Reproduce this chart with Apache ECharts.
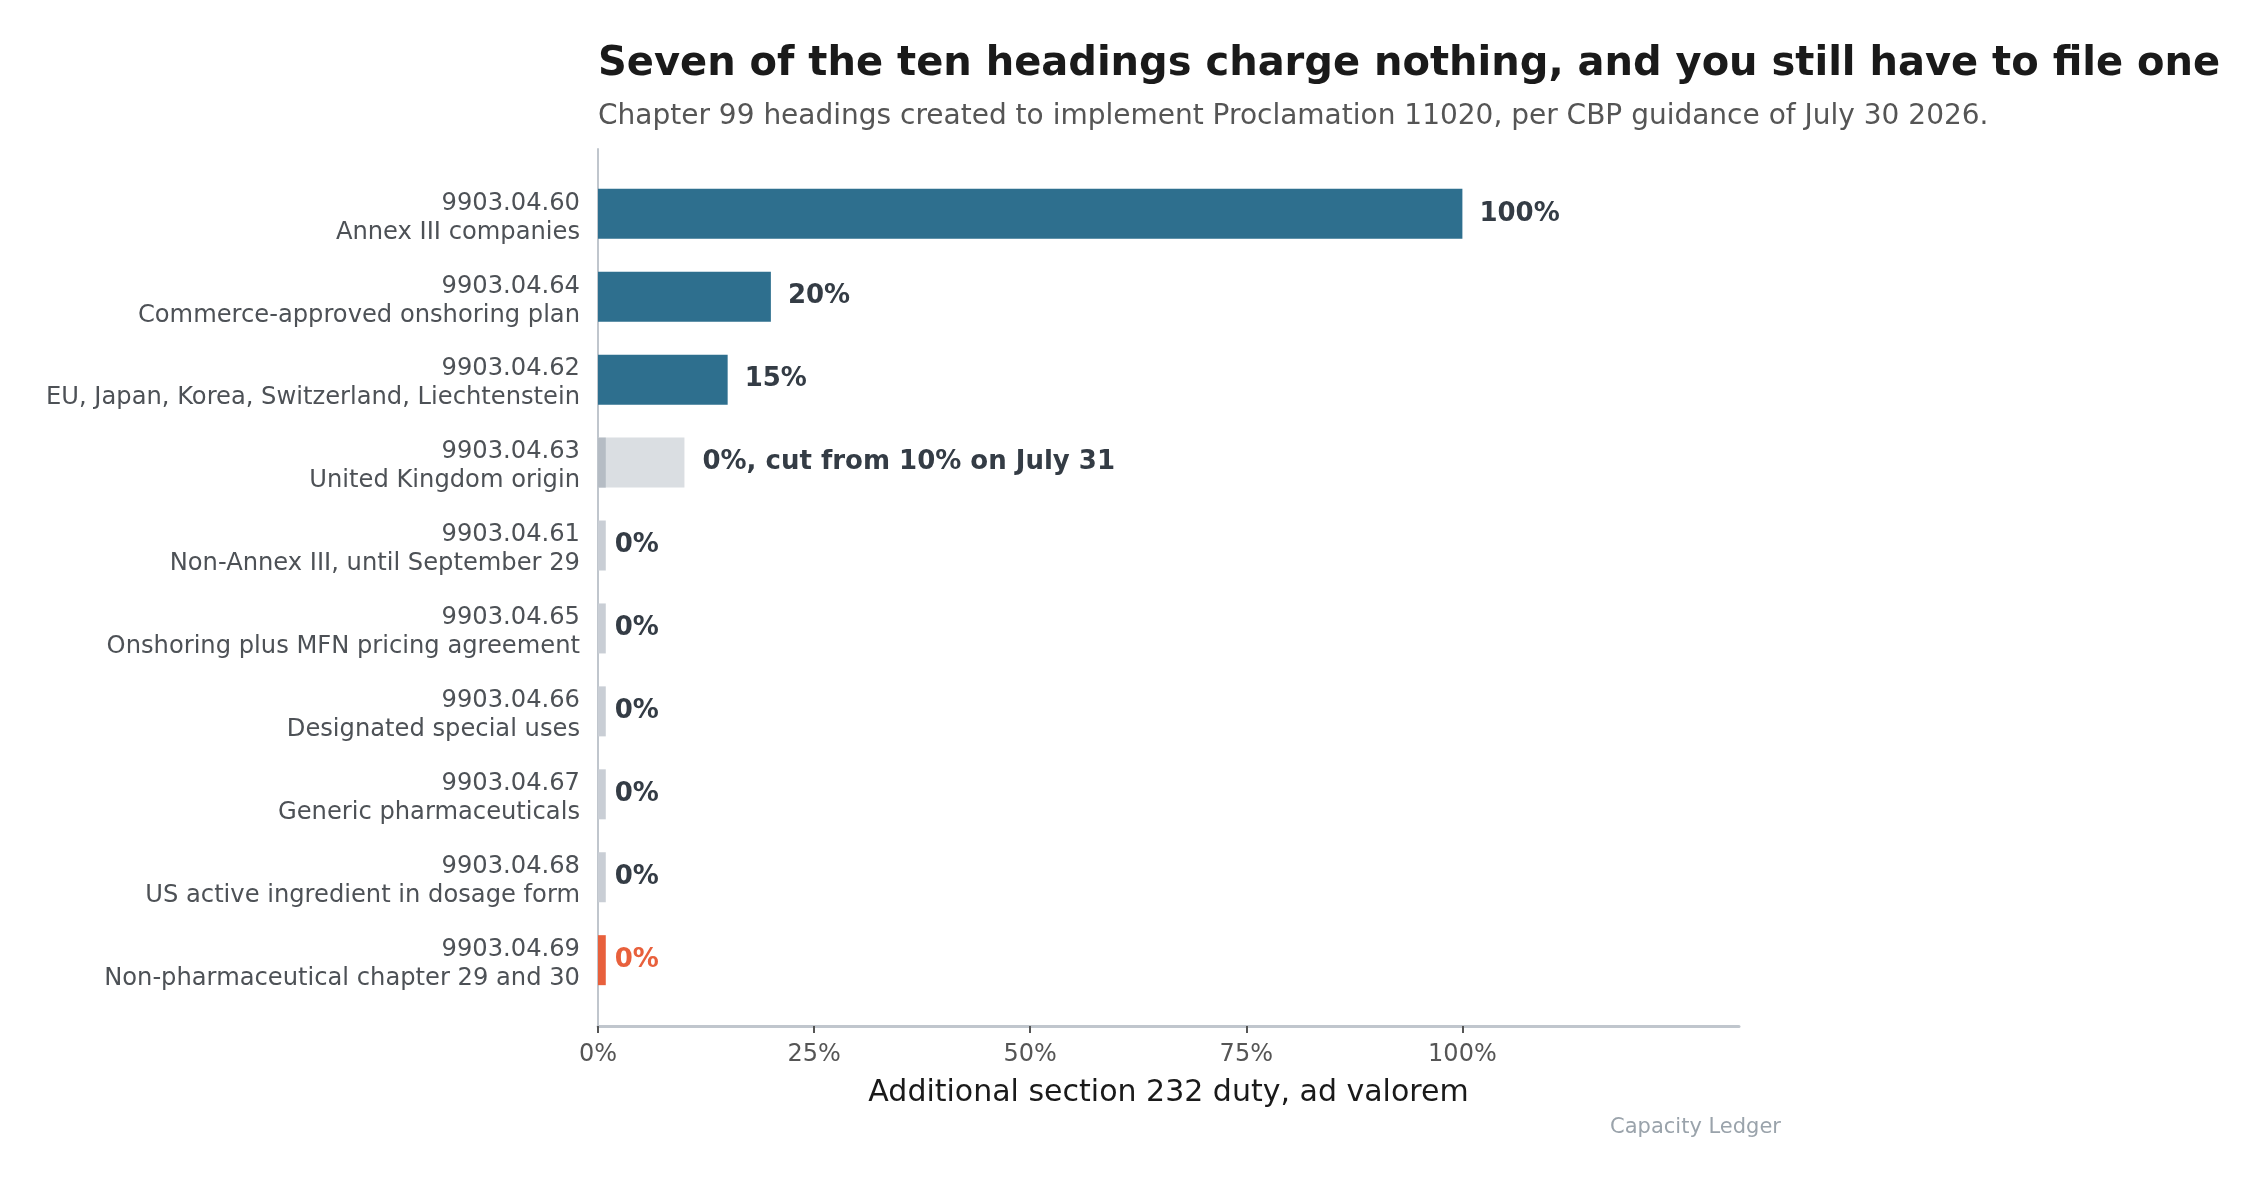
<!DOCTYPE html>
<html>
<head>
<meta charset="utf-8">
<script src="https://cdn.jsdelivr.net/npm/echarts@6/dist/echarts.min.js"></script>
<style>
  html, body { margin: 0; padding: 0; background: #ffffff; }
  #chart { width: 2259px; height: 1183px; }
</style>
</head>
<body>
<div id="chart"></div>
<script>
// headings, top to bottom
const codes = [
  '9903.04.60', '9903.04.64', '9903.04.62', '9903.04.63', '9903.04.61',
  '9903.04.65', '9903.04.66', '9903.04.67', '9903.04.68', '9903.04.69'
];
const descriptions = [
  'Annex III companies',
  'Commerce-approved onshoring plan',
  'EU, Japan, Korea, Switzerland, Liechtenstein',
  'United Kingdom origin',
  'Non-Annex III, until September 29',
  'Onshoring plus MFN pricing agreement',
  'Designated special uses',
  'Generic pharmaceuticals',
  'US active ingredient in dosage form',
  'Non-pharmaceutical chapter 29 and 30'
];
// additional duty, percent
const duty = [100, 20, 15, 0, 0, 0, 0, 0, 0, 0];
// previous rate (only the UK heading had one)
const previousDuty = [null, null, null, 10, null, null, null, null, null, null];
const valueLabels = ['100%', '20%', '15%', '0%, cut from 10% on July 31', '0%', '0%', '0%', '0%', '0%', '0%'];
// which bars get which colour
const barKind = ['rate', 'rate', 'rate', 'cut', 'zero', 'zero', 'zero', 'zero', 'zero', 'flag'];
const xTicks = [0, 25, 50, 75, 100];

const FONT = 'DejaVu Sans';
const KIND_COLOR = { rate: '#2e6f8e', cut: '#b5bcc4', zero: '#c9ced5', flag: '#e8603c' };
const LABEL_COLOR = { rate: '#343c45', cut: '#343c45', zero: '#343c45', flag: '#e8603c' };
const STUB = 0.9; // zero bars still get a sliver so they show up
const X_MAX = 132;

const plotLeft = 598, plotTop = 149, plotWidth = 1141, plotHeight = 877;
const band = 82.93;
const barsTop = 213.8 - band / 2;

const mainData = duty.map((v, i) => {
  const kind = barKind[i];
  const hasPrev = previousDuty[i] != null;
  return {
    value: Math.max(v, STUB),
    itemStyle: { color: KIND_COLOR[kind] },
    label: {
      show: !hasPrev,
      distance: v > 0 ? 17 : 9,
      color: LABEL_COLOR[kind]
    }
  };
});
const prevData = previousDuty.map((v, i) => v == null ? '-' : {
  value: v,
  label: { show: true, formatter: valueLabels[i], distance: 18, color: LABEL_COLOR[barKind[i]] }
});

const chart = echarts.init(document.getElementById('chart'), null, { renderer: 'canvas' });

chart.setOption({
  animation: false,
  backgroundColor: '#ffffff',
  textStyle: { fontFamily: FONT },
  title: [
    {
      text: 'Seven of the ten headings charge nothing, and you still have to file one',
      left: plotLeft, top: 45, padding: 0,
      textStyle: { fontFamily: FONT, fontSize: 40, fontWeight: 'bold', color: '#1a1a1a' }
    },
    {
      text: 'Chapter 99 headings created to implement Proclamation 11020, per CBP guidance of July 30 2026.',
      left: plotLeft, top: 103, padding: 0,
      textStyle: { fontFamily: FONT, fontSize: 28, fontWeight: 'normal', color: '#555555' }
    },
    {
      text: 'Capacity Ledger',
      right: 2259 - 1781, top: 1117, padding: 0,
      textStyle: { fontFamily: FONT, fontSize: 21, fontWeight: 'normal', color: '#9aa3ab' }
    }
  ],
  grid: [
    { left: plotLeft, top: plotTop, width: plotWidth, height: plotHeight, containLabel: false },
    { left: plotLeft, top: barsTop, width: plotWidth, height: band * codes.length, containLabel: false }
  ],
  xAxis: [
    {
      gridIndex: 0, type: 'value', min: 0, max: X_MAX,
      splitLine: { show: false },
      axisLine: { show: true, lineStyle: { color: '#c0c6cd', width: 3 } },
      axisTick: { show: true, length: 7, customValues: xTicks, lineStyle: { color: '#555555', width: 2 } },
      axisLabel: {
        customValues: xTicks, margin: 17,
        formatter: v => v + '%',
        fontFamily: FONT, fontSize: 24, color: '#555555'
      },
      name: 'Additional section 232 duty, ad valorem',
      nameLocation: 'middle', nameGap: 52,
      nameTextStyle: { fontFamily: FONT, fontSize: 30, color: '#1a1a1a' }
    },
    {
      gridIndex: 1, type: 'value', min: 0, max: X_MAX, show: false
    }
  ],
  yAxis: [
    {
      gridIndex: 0, type: 'value', min: 0, max: 1,
      axisLine: { show: true, lineStyle: { color: '#c0c6cd', width: 2 } },
      axisTick: { show: false }, axisLabel: { show: false }, splitLine: { show: false }
    },
    {
      gridIndex: 1, type: 'category', data: codes, inverse: true,
      axisLine: { show: false }, axisTick: { show: false }, splitLine: { show: false },
      axisLabel: {
        margin: 18,
        padding: [8, 0, 0, 0],
        formatter: (code, i) => '{code|' + code + '}\n{desc|' + descriptions[i] + '}',
        rich: {
          code: { fontFamily: FONT, fontSize: 24.2, color: '#4d5156', align: 'right', lineHeight: 29 },
          desc: { fontFamily: FONT, fontSize: 24.2, color: '#4d5156', align: 'right', lineHeight: 29 }
        }
      }
    }
  ],
  series: [
    {
      name: 'previous',
      type: 'bar', xAxisIndex: 1, yAxisIndex: 1,
      data: prevData,
      barWidth: 50, barGap: '-100%',
      itemStyle: { color: '#dadee2' },
      label: {
        position: 'right',
        fontFamily: FONT, fontSize: 26, fontWeight: 'bold'
      },
      z: 1
    },
    {
      name: 'duty',
      type: 'bar', xAxisIndex: 1, yAxisIndex: 1,
      data: mainData,
      barWidth: 50, barGap: '-100%',
      label: {
        position: 'right',
        formatter: p => valueLabels[p.dataIndex],
        fontFamily: FONT, fontSize: 26, fontWeight: 'bold'
      },
      z: 2
    }
  ]
});
</script>
</body>
</html>
